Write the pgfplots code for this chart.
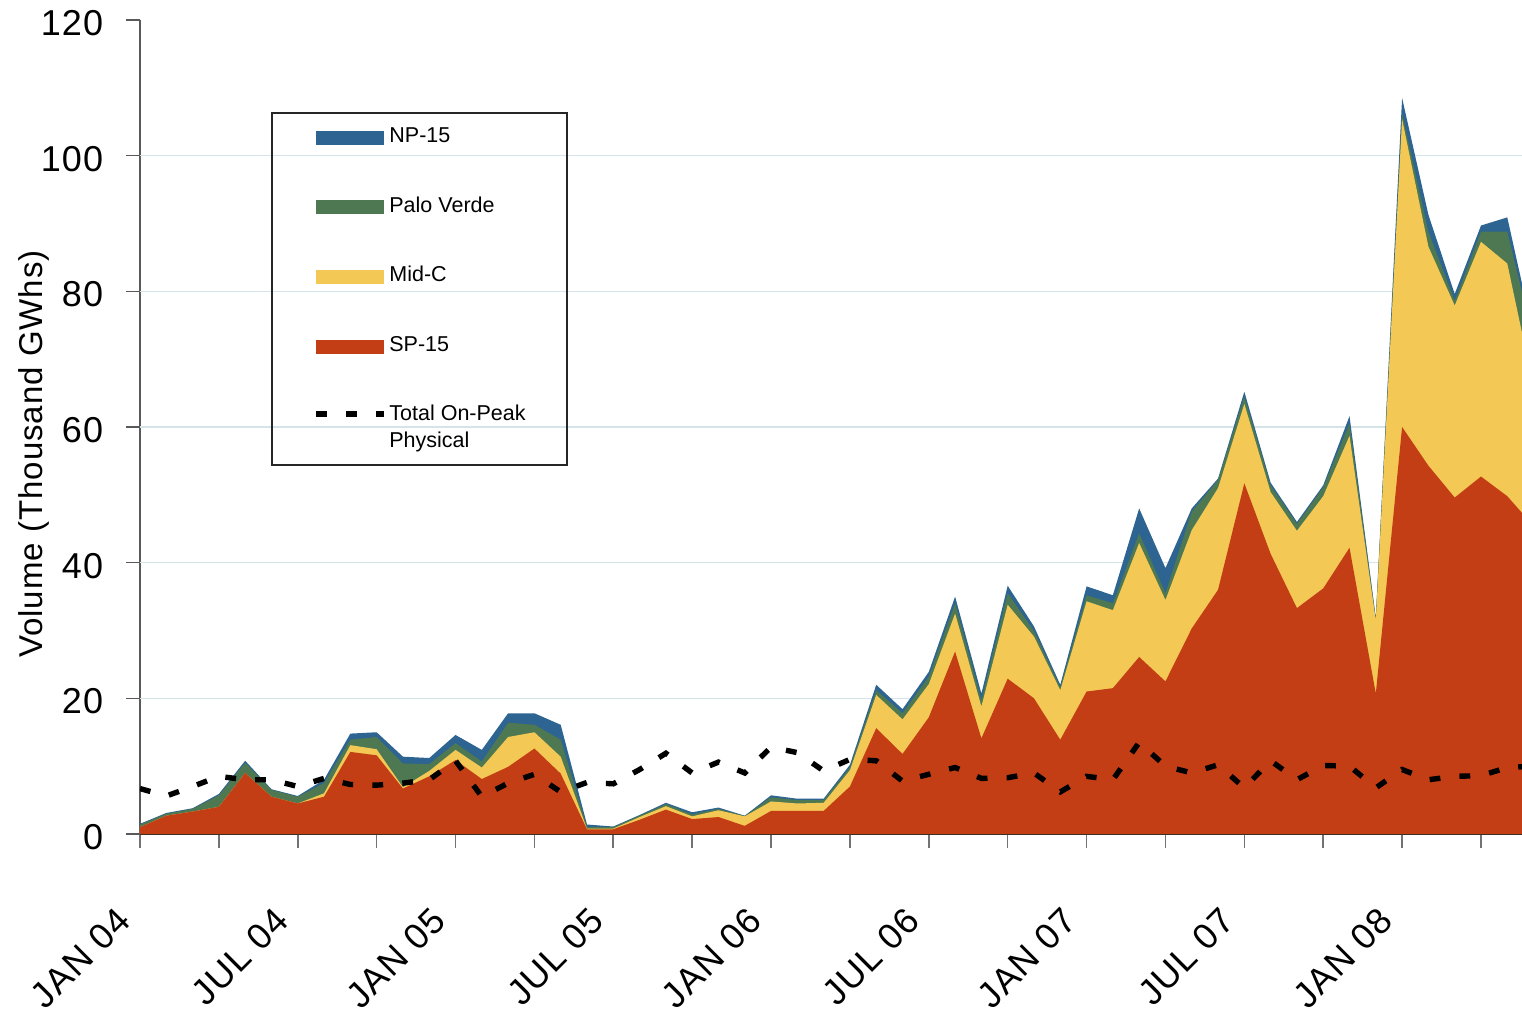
\documentclass[border=0pt]{standalone}
\usepackage{pgfplots}
\pgfplotsset{compat=1.18}
\usepackage{pgfplotstable}
\usepackage{fontspec}
\setmainfont{Liberation Sans}
\definecolor{spred}{RGB}{196,62,21}
\definecolor{midc}{RGB}{243,200,84}
\definecolor{palov}{RGB}{78,120,81}
\definecolor{npblue}{RGB}{45,100,145}
\definecolor{gridc}{RGB}{212,228,232}
% cumulative tops of the stack (SP-15, +Mid-C, +Palo Verde, +NP-15) and total on-peak physical
\pgfplotstableread{
i sp midc pv np tot
0 1.0 1.0 1.4 1.5 6.7
1 2.7 2.7 3.0 3.1 5.6
2 3.3 3.3 3.7 3.8 7.0
3 4.0 4.0 5.7 5.9 8.5
4 9.0 9.0 10.5 10.8 8.0
5 5.5 5.5 6.5 6.6 8.0
6 4.5 4.5 5.5 5.6 7.0
7 5.5 6.0 7.5 8.0 8.2
8 12.1 13.1 13.9 14.8 7.3
9 11.6 12.5 14.3 15.0 7.2
10 6.7 6.9 10.4 11.4 7.5
11 8.5 9.3 10.3 11.2 8.0
12 10.9 12.4 13.4 14.6 10.8
13 8.1 9.8 10.7 12.4 5.5
14 9.9 14.3 16.4 17.8 7.5
15 12.6 15.0 16.1 17.8 8.8
16 8.9 11.4 13.9 16.1 6.2
17 0.7 0.8 1.0 1.4 7.6
18 0.7 0.8 1.0 1.1 7.4
19 2.1 2.5 2.7 2.8 9.5
20 3.6 4.1 4.4 4.6 11.9
21 2.2 2.6 2.9 3.2 9.0
22 2.5 3.5 3.7 3.9 10.6
23 1.2 2.6 2.65 2.7 9.0
24 3.4 4.8 5.4 5.7 12.8
25 3.4 4.5 5.0 5.2 12.0
26 3.4 4.6 5.0 5.2 9.3
27 7.0 9.4 9.8 10.2 11.0
28 15.6 20.5 21.2 22.0 10.8
29 11.8 16.9 17.8 18.4 7.8
30 17.2 22.1 23.2 23.9 8.8
31 26.9 32.5 34.0 35.0 9.8
32 14.1 18.8 19.7 20.7 8.2
33 22.9 33.8 35.5 36.6 8.3
34 20.0 29.1 29.9 30.6 9.0
35 13.9 21.2 21.6 22.0 6.2
36 21.0 34.3 35.2 36.5 8.5
37 21.5 33.0 34.0 35.2 8.0
38 26.1 42.9 44.3 48.0 13.5
39 22.5 34.5 35.5 39.2 10.0
40 30.3 44.8 47.5 48.0 9.0
41 36.0 51.0 52.2 52.4 10.2
42 51.7 63.4 64.5 65.2 6.8
43 41.3 50.4 51.4 51.8 10.8
44 33.3 44.7 45.7 46.0 8.0
45 36.2 49.8 51.1 51.4 10.1
46 42.2 58.7 60.5 61.6 10.0
47 20.7 31.5 31.7 31.9 6.8
48 60.0 105.4 106.2 108.5 9.5
49 54.3 86.6 88.8 91.3 8.0
50 49.6 77.9 78.6 79.6 8.5
51 52.7 87.3 88.8 89.7 8.6
52 49.8 84.1 88.8 90.9 9.8
53 45.4 65.9 72.8 73.5 10.0
}\datatable
\begin{document}
\begin{tikzpicture}
\begin{axis}[
  at={(0pt,0pt)}, anchor=south west,
  scale only axis, width=691pt, height=407pt,
  xmin=0, xmax=52.56, ymin=0, ymax=120,
  axis x line*=bottom, axis y line*=left,
  x axis line style={-, black, line width=1pt},
  y axis line style={-, black!65, line width=0.8pt},
  tick align=outside, major tick length=6.75pt,
  xtick style={black!55, line width=0.8pt},
  ytick style={black!65, line width=0.8pt},
  xtick={0,3,...,51},
  xticklabels={JAN 04,,JUL 04,,JAN 05,,JUL 05,,JAN 06,,JUL 06,,JAN 07,,JUL 07,,JAN 08,},
  ytick={0,20,...,120},
  extra y ticks={20,40,60,80,100},
  extra y tick labels={},
  extra y tick style={grid=major, major tick length=0pt},
  grid style={gridc, line width=0.8pt},
  /pgf/number format/assume math mode=true,
  ticklabel style={font=\fontsize{18}{20}\selectfont\addfontfeatures{LetterSpace=3}},
  xticklabel style={xshift=-8pt, yshift=-33.5pt, rotate=45, anchor=east, inner sep=0pt},
  yticklabel style={xshift=-11.5pt, yshift=-1.5pt, anchor=east, inner sep=0pt},
  ylabel={Volume (Thousand GWhs)},
  ylabel style={at={(axis description cs:-0.0702,0.4668)}, anchor=base, font=\fontsize{16.5}{19}\selectfont\addfontfeatures{LetterSpace=3}},
  clip=true,
]
\addplot[fill=npblue, draw=none] table[x=i, y=np] {\datatable} \closedcycle;
\addplot[fill=palov, draw=none] table[x=i, y=pv] {\datatable} \closedcycle;
\addplot[fill=midc, draw=none] table[x=i, y=midc] {\datatable} \closedcycle;
\addplot[fill=spred, draw=none] table[x=i, y=sp] {\datatable} \closedcycle;
\addplot[black, line width=2.7pt, dash pattern=on 5.4pt off 9.6pt] table[x=i, y=tot] {\datatable};
\end{axis}
% legend
\draw[black!85, line width=0.6pt] (66pt,184.5pt) rectangle (213.5pt,360.5pt);
\fill[npblue] (88pt,344.5pt) rectangle (122pt,351.5pt);
\fill[palov] (88pt,310.15pt) rectangle (122pt,317.15pt);
\fill[midc] (88pt,275.15pt) rectangle (122pt,282.15pt);
\fill[spred] (88pt,240.15pt) rectangle (122pt,247.15pt);
\draw[black, line width=2.8pt, dash pattern=on 5.35pt off 9.65pt] (88pt,209.85pt) -- (122pt,209.85pt);
\begin{scope}[every node/.style={anchor=base west, inner sep=0pt, font=\fontsize{10.75}{13}\selectfont}]
\node at (124.5pt,345.85pt) {NP-15};
\node at (124.5pt,310.85pt) {Palo Verde};
\node at (124.5pt,276.15pt) {Mid-C};
\node at (124.5pt,241.15pt) {SP-15};
\node at (124.5pt,206.65pt) {Total On-Peak};
\node at (124.5pt,193.35pt) {Physical};
\end{scope}
\pgfresetboundingbox
\useasboundingbox (-70pt,-89.5pt) rectangle (691pt,417pt);
\end{tikzpicture}
\end{document}
